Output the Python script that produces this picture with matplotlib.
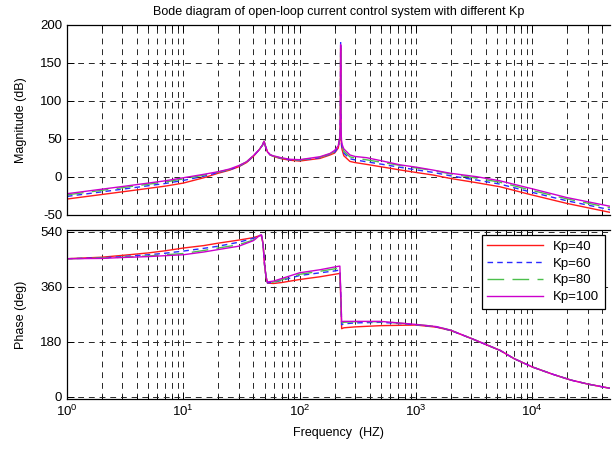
import matplotlib
matplotlib.use("Agg")
import matplotlib.pyplot as plt
from matplotlib.ticker import LogLocator, NullFormatter

plt.rcParams['font.family'] = ['Liberation Sans', 'DejaVu Sans']
plt.rcParams['mathtext.fontset'] = 'custom'
plt.rcParams['mathtext.rm'] = 'Liberation Sans'
plt.rcParams['axes.unicode_minus'] = False

labels = ['Kp=40', 'Kp=60', 'Kp=80', 'Kp=100']

# frequency points (Hz)
freq_mag = [1, 2, 3, 5, 7, 10, 15, 20, 25, 30, 35, 40, 45, 48, 49.5, 51, 53, 56,
            61, 70, 83, 100, 150, 183, 200, 215, 222, 224, 225.5, 227, 229, 232,
            240, 271, 300, 377, 500, 730, 1000, 1420, 1965, 3330, 5270, 10000,
            19800, 46700]

mag_kp40 = [-29, -23, -19.5, -15, -12, -8, -1, 5, 9, 13.5, 19, 27, 36, 42, 47, 40, 33, 29,
            26.5, 24, 22, 21, 24.5, 29, 31.5, 38, 50, 70, 170, 62, 42, 36,
            28, 20.5, 19, 16.6, 13.5, 9.3, 6, 2.5, -1.8, -7.5, -12.8, -23.7,
            -34.7, -46.5]
mag_kp60 = [-25.5, -19.5, -16, -11.5, -8.5, -4.5, 1, 6, 9.5, 14, 19.5, 27.5, 36, 42, 47, 40, 33, 29,
            26.8, 24.5, 22.6, 21.8, 25.5, 30, 32.5, 39, 51, 72, 178, 64, 45, 39,
            31.5, 24, 22.5, 20, 17, 12.8, 9.5, 6, 1.7, -4, -9.3, -20.2,
            -31.2, -43]
mag_kp80 = [-23.5, -17.5, -14, -9.5, -6.5, -2.5, 2.5, 6.5, 10, 14.5, 20, 28, 36, 42, 47, 40, 33, 29,
            27, 24.8, 23, 22.3, 26, 30.5, 33.5, 40, 52, 74, 172, 66, 47, 41,
            34, 26.5, 25, 22.6, 19.5, 15.3, 12, 8.5, 4.2, -1.5, -6.8, -17.7,
            -28.7, -40.5]
mag_kp100 = [-22, -16, -12.5, -8, -5, -1, 3.5, 7, 10.5, 15, 20, 28, 36, 42, 47, 40, 33, 29,
             27.5, 25.2, 23.3, 22.8, 26.7, 31, 35, 41, 53, 76, 174, 68, 49, 43,
             37, 29, 27, 25.4, 21.5, 16, 13, 9, 5, 0.4, -5, -15.5,
             -27, -38.5]

freq_ph = [1, 2, 3, 5, 7, 10, 15, 20, 30, 40, 45, 47, 48.5, 50, 51.5, 53, 60, 70,
           100, 150, 200, 222, 226, 230, 240, 300, 500, 1000, 1500, 2000, 3000, 5300,
           7000, 10000, 15000, 21500, 30000, 46700]

ph_kp40 = [451, 456, 462, 470, 477, 486, 494, 502, 512, 520, 526, 527, 500, 430, 390, 371, 370, 373,
           383, 392, 400, 403, 320, 222, 225, 228, 232, 234, 227, 216, 190, 151,
           124, 97, 73, 54, 41, 27]
ph_kp60 = [451, 454, 458, 464, 469, 476, 485, 492, 505, 518, 527, 528, 500, 430, 390, 372, 374, 380,
           396, 405, 411, 414, 330, 235, 238, 241, 243, 235, 228, 216, 190, 151,
           124, 97, 73, 54, 41, 27]
ph_kp80 = [451, 453, 456, 460, 464, 468, 478, 486, 497, 512, 526, 528, 500, 430, 391, 372, 375, 382,
           400, 410, 418, 421, 335, 240, 243, 245, 245, 236, 229, 217, 190, 151,
           124, 97, 73, 54, 41, 27]
ph_kp100 = [451, 452, 455, 458, 461, 464, 473, 481, 492, 510, 526, 529, 500, 432, 392, 375, 378, 386,
            405, 415, 424, 427, 340, 245, 246, 246, 246, 236, 229, 217, 190, 151,
            124, 97, 73, 54, 41, 27]

mags = [mag_kp40, mag_kp60, mag_kp80, mag_kp100]
phases = [ph_kp40, ph_kp60, ph_kp80, ph_kp100]
styles = [
    dict(color='#ff1a1a', linestyle='-'),
    dict(color='#2a2aff', linestyle=(0, (4, 3))),
    dict(color='#4cbf4c', linestyle=(0, (12, 6))),
    dict(color='#cc00cc', linestyle='-'),
]

fig = plt.figure(figsize=(6.15, 4.49), dpi=100)
ax1 = fig.add_axes([67/615, 1 - 215/449, (610-67)/615, 190/449])
ax2 = fig.add_axes([67/615, 1 - 399/449, (610-67)/615, 169/449])

grid_kw = dict(color='0.15', linestyle=(0, (6, 5)), linewidth=0.7)

for ax in (ax1, ax2):
    ax.set_xscale('log')
    ax.set_xlim(1, 46700)
    ax.xaxis.set_minor_locator(LogLocator(base=10, subs=range(2, 10), numticks=20))
    ax.xaxis.set_minor_formatter(NullFormatter())
    ax.grid(True, which='major', axis='both', **grid_kw)
    ax.grid(True, which='minor', axis='x', **grid_kw)
    ax.tick_params(which='both', direction='in', top=True, right=False,
                   labelsize=9.5, width=0.7)
    ax.tick_params(which='major', length=5)
    ax.tick_params(which='minor', length=3)
    ax.spines['right'].set_visible(False)
    for s in ('left', 'top', 'bottom'):
        ax.spines[s].set_linewidth(0.9)

for m, st, lab in zip(mags, styles, labels):
    ax1.plot(freq_mag, m, linewidth=1.0, label=lab, **st)
for p, st, lab in zip(phases, styles, labels):
    ax2.plot(freq_ph, p, linewidth=1.0, label=lab, **st)

ax1.set_ylim(-50, 200)
ax1.set_yticks([-50, 0, 50, 100, 150, 200])
ax1.tick_params(labelbottom=False)
ax1.set_ylabel('Magnitude (dB)', fontsize=9, labelpad=9)
ax1.set_title('Bode diagram of open-loop current control system with different Kp',
              fontsize=9, pad=7)

ax2.set_ylim(-8, 545)
ax2.set_yticks([0, 180, 360, 540])
ax2.set_ylabel('Phase (deg)', fontsize=9, labelpad=9)
ax2.set_xlabel('Frequency  (HZ)', fontsize=9, labelpad=6)

fig.align_ylabels([ax1, ax2])

leg = ax2.legend(loc='upper right', fontsize=9.5, handlelength=4.2,
                 labelspacing=0.35, borderpad=0.4, borderaxespad=0.4,
                 fancybox=False, framealpha=1, edgecolor='black')
leg.get_frame().set_linewidth(0.9)

fig.savefig('out.png', dpi=100)
